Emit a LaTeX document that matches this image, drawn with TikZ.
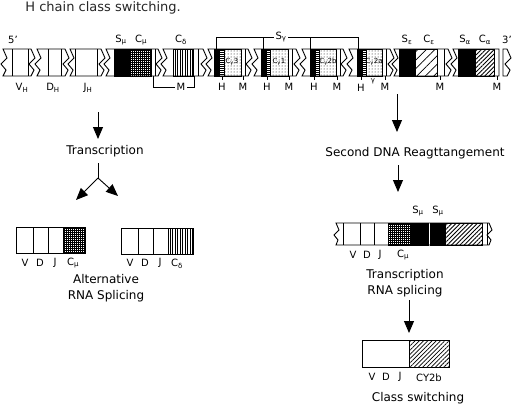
\documentclass[tikz,border=0pt]{standalone}
\usepackage{fontspec}
\setmainfont{DejaVu Sans}
\usetikzlibrary{arrows.meta,patterns.meta}

\begin{document}
\begin{tikzpicture}[x=1pt, y=-1pt, line width=0.9pt,
    lbl/.style={font=\fontsize{12}{16.5}\selectfont, align=center, inner sep=0pt},
    tag/.style={font=\fontsize{10}{11}\selectfont, inner sep=0pt},
    tiny/.style={font=\fontsize{7}{8}\selectfont, inner sep=0pt},
    arr/.style={-{Triangle[width=10pt,length=12pt]}},
    zigdown/.style={insert path={-- ++(4,9) -- ++(-6,6) -- ++(5,6) -- ++(-3,6)}},
    zigup/.style={insert path={-- ++(3,-6) -- ++(-5,-6) -- ++(6,-6) -- ++(-4,-9)}},
    zigdownB/.style={insert path={-- ++(3,7) -- ++(-5,5) -- ++(4,5) -- ++(-2,5)}},
    zigupB/.style={insert path={-- ++(2,-5) -- ++(-4,-5) -- ++(5,-5) -- ++(-3,-7)}},
    blk/.style={fill=black},
    grd/.style={pattern={Hatch[distance=2pt,line width=0.8pt]}},
    vln/.style={pattern={Lines[angle=90,distance=2.5pt,line width=0.8pt]}},
    hln/.style={pattern={Lines[angle=0,distance=2pt,line width=0.8pt]}},
    dts/.style={pattern={Dots[distance=3pt,radius=0.5pt]}},
    wide/.style={pattern={Lines[angle=45,distance=6pt,line width=0.8pt]}},
    tight/.style={pattern={Lines[angle=45,distance=3pt,line width=0.8pt]}}]

    \useasboundingbox (0,0) rectangle (514,408);

    \node[anchor=west, font=\fontsize{13}{14}\selectfont, inner sep=0pt, text=black!85] (title) at (25,8) {H chain class switching.};

    % germline heavy chain locus
    \draw[blk] (114,49) rectangle (130,76);
    \draw[grd] (130,49) rectangle (151,76);
    \draw[vln] (173,49) rectangle (193,76);

    \draw[blk] (214,49) rectangle (219,76);
    \draw[hln] (219,49) rectangle (224,76);
    \draw[dts] (224,49) rectangle (241,76);

    \draw[blk] (261,49) rectangle (266,76);
    \draw[hln] (266,49) rectangle (270,76);
    \draw[dts] (270,49) rectangle (288,76);

    \draw[blk] (310,49) rectangle (315,76);
    \draw[hln] (315,49) rectangle (319,76);
    \draw[dts] (319,49) rectangle (336,76);

    \draw[blk] (357,49) rectangle (362,76);
    \draw[hln] (362,49) rectangle (366,76);
    \draw[dts] (366,49) rectangle (382,76);

    \draw[blk] (399,49) rectangle (415,76);
    \draw[wide] (415,49) rectangle (437,76);

    \draw[blk] (458,49) rectangle (475,76);
    \draw[tight] (475,49) rectangle (494,76);

    \draw (3,49) -- (31,49) [zigdown] -- (3,76) [zigup] -- cycle;
    \draw (37,49) -- (65,49) [zigdown] -- (37,76) [zigup] -- cycle;
    \draw (70,49) -- (101,49) [zigdown] -- (70,76) [zigup] -- cycle;
    \draw (106,49) -- (158,49) [zigdown] -- (106,76) [zigup] -- cycle;
    \draw (163,49) -- (203,49) [zigdown] -- (163,76) [zigup] -- cycle;
    \draw (208,49) -- (248,49) [zigdown] -- (208,76) [zigup] -- cycle;
    \draw (254,49) -- (296,49) [zigdown] -- (254,76) [zigup] -- cycle;
    \draw (302,49) -- (343,49) [zigdown] -- (302,76) [zigup] -- cycle;
    \draw (349,49) -- (390,49) [zigdown] -- (349,76) [zigup] -- cycle;
    \draw (394,49) -- (448,49) [zigdown] -- (394,76) [zigup] -- cycle;
    \draw (453,49) -- (499,49) -- (499,76) -- (453,76) [zigup] -- cycle;
    \draw (503,76) -- (503,49) -- (507,49) [zigdown] -- cycle;

    \draw (12,49) -- (12,76);  \draw (28,49) -- (28,76);
    \draw (48,49) -- (48,76);  \draw (61,49) -- (61,76);
    \draw (75,49) -- (75,76);  \draw (97,49) -- (97,76);
    \draw (155,49) -- (155,76);
    \draw (198,49) -- (198,76);
    \draw (245,49) -- (245,76);
    \draw (292,49) -- (292,76);
    \draw (340,49) -- (340,76);
    \draw (386,49) -- (386,76);
    \draw (444,49) -- (444,76);

    \node[tiny] (cg3) at (232,62) {C\textsubscript{γ}3};
    \node[tiny] (cg1) at (279,62) {C\textsubscript{γ}1};
    \node[tiny] (cg2b) at (328,62) {C\textsubscript{γ}2b};
    \node[tiny] (cg2a) at (374,62) {C\textsubscript{γ}2a};

    % labels above
    \node[tag] (five) at (13,40) {5'};
    \node[tag] (smu) at (121,40) {S\textsubscript{μ}};
    \node[tag] (cmu) at (141,40) {C\textsubscript{μ}};
    \node[tag] (cdelta) at (181,40) {C\textsubscript{δ}};
    \node[tag] (seps) at (407,40) {S\textsubscript{ε}};
    \node[tag] (ceps) at (429,40) {C\textsubscript{ε}};
    \node[tag] (salpha) at (465,40) {S\textsubscript{α}};
    \node[tag] (calpha) at (485,40) {C\textsubscript{α}};
    \node[tag] (three) at (507,40) {3'};

    \draw (216,49) -- (216,37) -- (358,37) -- (358,49);
    \draw (263,37) -- (263,49);
    \draw (310,37) -- (310,49);
    \node[tag, fill=white, inner sep=1.5pt] (sgamma) at (281,37) {S\textsubscript{γ}};

    % labels below
    \node[tag] (vh) at (22,88) {V\textsubscript{H}};
    \node[tag] (dh) at (53,88) {D\textsubscript{H}};
    \node[tag] (jh) at (88,88) {J\textsubscript{H}};

    \draw (153,76) -- (153,87) -- (194,87) -- (194,76);
    \node[tag, fill=white, inner sep=1.5pt] (mdelta) at (181,87) {M};

    \draw (222,76) -- (222,80);  \node[tag] (h1) at (222,87) {H};
    \draw (243,76) -- (243,80);  \node[tag] (m1) at (243,87) {M};
    \draw (267,76) -- (267,80);  \node[tag] (h2) at (267,87) {H};
    \draw (289,76) -- (289,80);  \node[tag] (m2) at (289,87) {M};
    \draw (314,76) -- (314,80);  \node[tag] (h3) at (314,87) {H};
    \draw (337,76) -- (337,80);  \node[tag] (m3) at (337,87) {M};
    \draw (361,76) -- (361,80);  \node[tag] (h4) at (361,88) {H};
    \draw (385,76) -- (385,80);  \node[tag] (m4) at (385,87) {M};
    \node[tiny] (gsmall) at (373,81) {γ};
    \draw (440,76) -- (440,80);  \node[tag] (m5) at (440,87) {M};
    \draw (497,76) -- (497,80);  \node[tag] (m6) at (497,87) {M};

    % left: alternative splicing
    \coordinate (downA) at (98,112);
    \coordinate (downB) at (98,139);
    \draw[arr] (downA) -- (downB);
    \node[lbl] (trans1) at (105,151) {Transcription};
    \coordinate (fork) at (98,178);
    \coordinate (forkL) at (76,200);
    \coordinate (forkR) at (118,196);
    \draw[shorten <=6pt] (trans1.south -| fork) -- (fork);
    \draw[arr] (fork) -- (forkL);
    \draw[arr] (fork) -- (forkR);

    \draw[grd] (63,227) rectangle (85,253);
    \draw (16,227) rectangle (85,253);
    \draw (33,227) -- (33,253);  \draw (48,227) -- (48,253);
    \node[tag] (v1) at (25,263) {V};
    \node[tag] (d1) at (40,263) {D};
    \node[tag] (j1) at (55,263) {J};
    \node[tag] (cm1) at (73,263) {C\textsubscript{μ}};

    \draw[vln] (168,228) rectangle (193,254);
    \draw (121,228) rectangle (193,254);
    \draw (138,228) -- (138,254);  \draw (153,228) -- (153,254);
    \node[tag] (v2) at (130,263) {V};
    \node[tag] (d2) at (145,263) {D};
    \node[tag] (j2) at (160,263) {J};
    \node[tag] (cd2) at (177,264) {C\textsubscript{δ}};

    \node[lbl] (alt) at (106,288) {Alternative\\RNA Splicing};

    % right: class switching
    \coordinate (rightA) at (397,94);
    \coordinate (rightB) at (397,132);
    \draw[arr] (rightA) -- (rightB);
    \node[lbl] (second) at (415,153) {Second DNA Reagttangement};
    \coordinate (rightC) at (398,165);
    \coordinate (rightD) at (398,192);
    \draw[arr] (rightC) -- (rightD);

    \draw[grd] (388,223) rectangle (410,245);
    \draw[blk] (410,223) rectangle (428,245);
    \draw[blk] (430,223) rectangle (445,245);
    \draw[tight] (445,223) rectangle (482,245);
    \draw (336,223) -- (489,223) [zigdownB] -- (336,245) [zigupB] -- cycle;
    \draw (343,223) -- (343,245);  \draw (360,223) -- (360,245);
    \draw (374,223) -- (374,245);  \draw (487,223) -- (487,245);
    \node[tag] (sm1) at (418,211) {S\textsubscript{μ}};
    \node[tag] (sm2) at (438,211) {S\textsubscript{μ}};
    \node[tag] (v3) at (353,255) {V};
    \node[tag] (d3) at (367,255) {D};
    \node[tag] (j3) at (380,255) {J};
    \node[tag] (cm3) at (403,255) {C\textsubscript{μ}};

    \node[lbl] (trans2) at (405,283) {Transcription\\RNA splicing};
    \coordinate (rightE) at (409,300);
    \coordinate (rightF) at (409,333);
    \draw[arr] (rightE) -- (rightF);

    \draw[tight] (409,340) rectangle (449,367);
    \draw (362,340) rectangle (449,367);
    \node[tag] (v4) at (372,377) {V};
    \node[tag] (d4) at (386,377) {D};
    \node[tag] (j4) at (400,377) {J};
    \node[tag] (cg4) at (429,378) {CY2b};
    \node[lbl] (switch) at (418,398) {Class switching};
\end{tikzpicture}
\end{document}
